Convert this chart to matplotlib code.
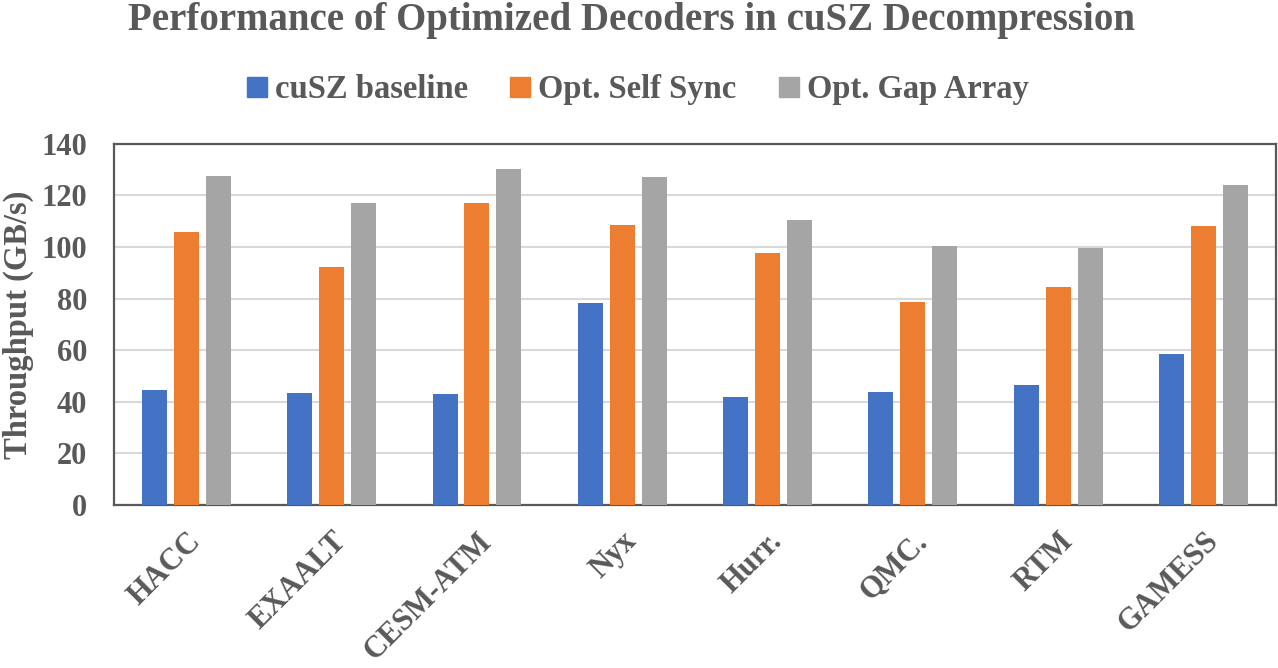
import numpy as np
import matplotlib
matplotlib.use('Agg')
import matplotlib.pyplot as plt
from matplotlib.lines import Line2D

plt.rcParams['font.family'] = 'Liberation Serif'
plt.rcParams['font.weight'] = 'bold'

# Data
datasets = ['HACC', 'EXAALT', 'CESM-ATM', 'Nyx', 'Hurr.', 'QMC.', 'RTM', 'GAMESS']
cusz_baseline = [44.5, 43.4, 43.0, 78.3, 41.8, 43.8, 46.5, 58.5]
opt_self_sync = [105.9, 92.3, 117.1, 108.6, 97.7, 78.7, 84.5, 108.2]
opt_gap_array = [127.6, 117.1, 130.3, 127.2, 110.5, 100.5, 99.7, 124.2]
series_names = ['cuSZ baseline', 'Opt. Self Sync', 'Opt. Gap Array']
colors = ['#4472C4', '#ED7D31', '#A5A5A5']
text_color = '#595959'

fig = plt.figure(figsize=(12.78, 6.68), dpi=100)
ax = fig.add_axes([0.089, 0.2445, 0.9095, 0.54])

x = np.arange(len(datasets))
width = 0.172
offset = 0.22
for i, (vals, c) in enumerate(zip([cusz_baseline, opt_self_sync, opt_gap_array], colors)):
    ax.bar(x + (i - 1) * offset, vals, width=width, color=c, zorder=3)

ax.set_xlim(-0.5, len(datasets) - 0.5)
ax.set_ylim(0, 140)
ax.set_yticks(np.arange(0, 141, 20))
ax.yaxis.grid(True, color='#D9D9D9', linewidth=1.5, zorder=0)
ax.set_axisbelow(True)

for sp in ax.spines.values():
    sp.set_color(text_color)
    sp.set_linewidth(1.6)

ax.tick_params(axis='both', length=0, colors=text_color)
ax.tick_params(axis='y', labelsize=22, pad=19)
ax.set_xticks(x)
ax.set_xticklabels(datasets, rotation=45, ha='right', rotation_mode='anchor',
                   fontsize=22, color=text_color)
ax.tick_params(axis='x', pad=16)
for lab in ax.get_yticklabels():
    lab.set_fontweight('bold')
    lab.set_color(text_color)

ax.set_ylabel('Throughput (GB/s)', fontsize=23.5, fontweight='bold', color=text_color)
ax.yaxis.set_label_coords(-0.069, 0.5)

fig.text(0.494, 0.97, 'Performance of Optimized Decoders in cuSZ Decompression',
         ha='center', va='center', fontsize=28, fontweight='bold', color=text_color)

handles = [Line2D([0], [0], marker='s', linestyle='none', markersize=14,
                  markerfacecolor=c, markeredgecolor=c) for c in colors]
leg = fig.legend(handles, series_names, loc='center', bbox_to_anchor=(0.4965, 0.866),
                 ncol=3, frameon=False, fontsize=23.5, handletextpad=0.05,
                 columnspacing=1.1, handlelength=1.0)
for t in leg.get_texts():
    t.set_color(text_color)
    t.set_fontweight('bold')

fig.savefig('out.png', dpi=100)
